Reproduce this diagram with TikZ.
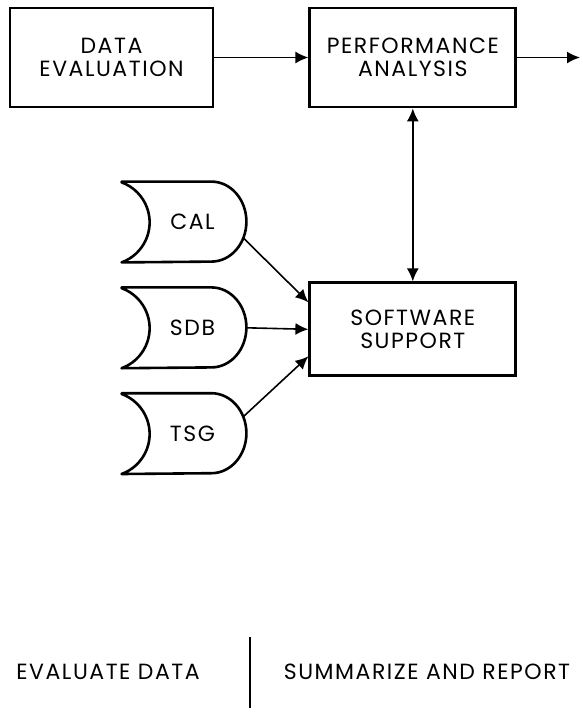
\documentclass[tikz,border=0pt]{standalone}
\usepackage{fontspec}
\setmainfont{Poppins}[LetterSpace=7]
\usetikzlibrary{calc, positioning, arrows.meta}
\tikzset{
  box/.style   = {draw, line width=1.4pt, align=center, inner sep=2pt,
                  font=\fontsize{11}{11.5}\selectfont, minimum height=49.5pt},
  store/.style = {align=center, inner sep=0pt, minimum width=53.5pt, minimum height=40pt,
                  font=\fontsize{11}{11.5}\selectfont,
                  append after command={\pgfextra{
                    \draw[line width=1.3pt, line join=round]
                      ([xshift=-8.5pt]\tikzlastnode.north west)
                      -- ([xshift=-17.5pt]\tikzlastnode.north east)
                      arc[start angle=90, end angle=-90, x radius=17.5pt, y radius=20pt]
                      -- ([xshift=-8.5pt]\tikzlastnode.south west)
                      arc[start angle=-70, end angle=70, radius=21.3pt] -- cycle;}}},
  fl/.style    = {-{Latex[length=6.5pt, width=6pt]}, line width=0.8pt},
  flb/.style   = {{Latex[length=6.5pt, width=6pt]}-{Latex[length=6.5pt, width=6pt]}, line width=0.8pt},
  lbl/.style   = {font=\fontsize{11}{11.5}\selectfont, inner sep=0pt}
}

\begin{document}
\begin{tikzpicture}[x=0.5pt, y=0.5pt]
  \useasboundingbox (0,0) rectangle (583,-713);

  % --- top row
  \node[box, minimum width=101.5pt] (dataev) at (111.5,-57.5) {DATA\\EVALUATION};
  \node[box, right=47pt of dataev, minimum width=103pt] (perf) {PERFORMANCE\\ANALYSIS};
  \coordinate (out) at (580,-57.5);

  % --- support box and its inputs
  \node[box, below=86.5pt of perf, minimum width=103pt, minimum height=46.5pt] (soft) {SOFTWARE\\SUPPORT};
  \node[store] (cal) at (192.5,-222) {CAL};
  \node[store, below=12.5pt of cal] (sdb) {SDB};
  \node[store, below=12.5pt of sdb] (tsg) {TSG};

  % --- phases
  \node[lbl] (evdata) at (108,-672) {EVALUATE DATA};
  \node[lbl] (summ) at (427,-672) {SUMMARIZE AND REPORT};
  \coordinate (divtop) at (250,-637);
  \coordinate (divbot) at (250,-708);

  \draw[fl] (dataev) -- (perf);
  \draw[fl] (perf) -- (out);
  \draw[flb] (perf) -- (soft);
  \draw[fl] ($(cal.east)+(-3,-16)$) -- ($(soft.west)+(0,27)$);
  \draw[fl] (sdb.east) -- (soft.west);
  \draw[fl] ($(tsg.east)+(-3,17)$) -- ($(soft.west)+(0,-27)$);
  \draw[line width=0.8pt] (divtop) -- (divbot);
\end{tikzpicture}
\end{document}
